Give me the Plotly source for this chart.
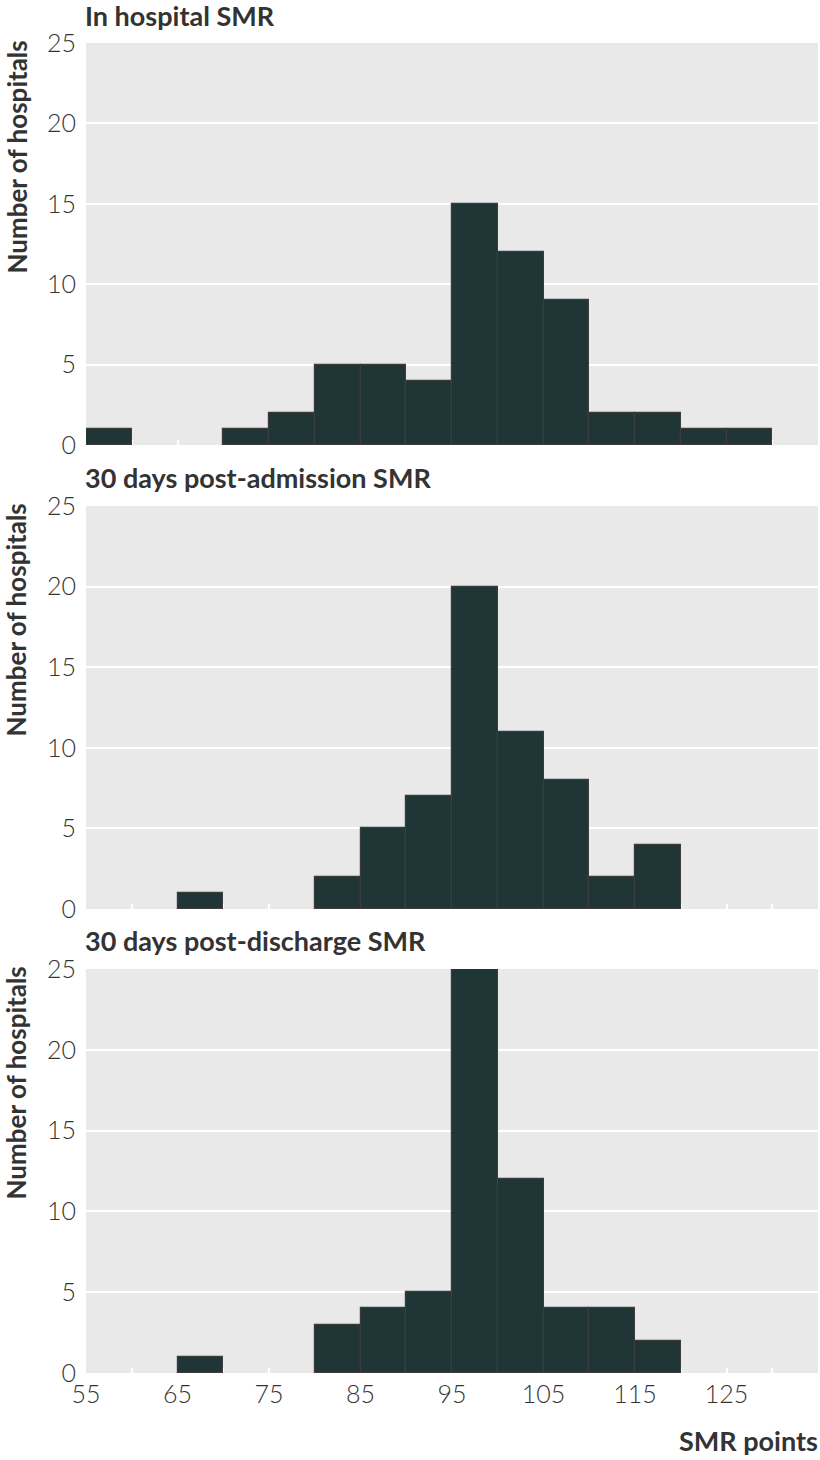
import plotly.graph_objects as go
from plotly.subplots import make_subplots

bin_starts = [55, 60, 65, 70, 75, 80, 85, 90, 95, 100, 105, 110, 115, 120, 125]
in_hospital = [1, 0, 0, 1, 2, 5, 5, 4, 15, 12, 9, 2, 2, 1, 1]
post_admission = [0, 0, 1, 0, 0, 2, 5, 7, 20, 11, 8, 2, 4, 0, 0]
post_discharge = [0, 0, 1, 0, 0, 3, 4, 5, 25, 12, 4, 4, 2, 0, 0]
panel_titles = ["In hospital SMR", "30 days post-admission SMR", "30 days post-discharge SMR"]
x_tick_vals = [55, 60, 65, 70, 75, 80, 85, 90, 95, 100, 105, 110, 115, 120, 125, 130]
x_tick_text = ["55", "", "65", "", "75", "", "85", "", "95", "", "105", "", "115", "", "125", ""]
y_tick_vals = [0, 5, 10, 15, 20, 25]
bin_width = 5

BAR = "#1f3536"
EDGE = "#3c3c3c"
BG = "#e9e9e9"
TXT = "#333333"
FONT = "Lato"

fig = make_subplots(rows=3, cols=1, shared_xaxes=False)
series = [in_hospital, post_admission, post_discharge]
domains = [[0.6977, 1.0], [0.3489, 0.6519], [0.0, 0.3038]]

for i, vals in enumerate(series):
    xs = [s + bin_width / 2 for s, v in zip(bin_starts, vals) if v > 0]
    ys = [v for v in vals if v > 0]
    fig.add_trace(
        go.Bar(
            x=xs, y=ys, width=bin_width,
            marker=dict(color=BAR, line=dict(color=EDGE, width=1.2)),
            showlegend=False, hoverinfo="x+y",
        ),
        row=i + 1, col=1,
    )
    xa = "xaxis" if i == 0 else f"xaxis{i+1}"
    ya = "yaxis" if i == 0 else f"yaxis{i+1}"
    fig.layout[xa].update(
        range=[55, 135], domain=[0, 1], showgrid=False, zeroline=False,
        ticks="inside", ticklen=5, tickwidth=2, tickcolor="white",
        tickvals=x_tick_vals, ticktext=x_tick_text if i == 2 else [""] * len(x_tick_vals),
        showticklabels=(i == 2), layer="below traces", automargin=False,
        ticklabelstandoff=4,
        tickfont=dict(family=FONT, size=25, color=TXT, weight=300),
        showline=False,
    )
    fig.layout[ya].update(
        range=[0, 25], domain=domains[i], tickvals=y_tick_vals,
        gridcolor="white", gridwidth=2, zeroline=False, showline=False,
        ticks="", ticklabelstandoff=9, automargin=False,
        tickfont=dict(family=FONT, size=25, color=TXT, weight=300),
    )
    # panel title
    fig.add_annotation(
        text=f"<b>{panel_titles[i]}</b>", xref="paper", yref="paper",
        x=0, xshift=-3, y=domains[i][1], yshift=28, xanchor="left", yanchor="middle",
        showarrow=False, font=dict(family=FONT, size=27, color=TXT),
    )
    # y-axis title
    fig.add_annotation(
        text="<b>Number of hospitals</b>", xref="paper", yref="paper",
        x=0, xshift=-70, y=domains[i][1], yshift=4, xanchor="center", yanchor="top",
        textangle=-90, showarrow=False, font=dict(family=FONT, size=26, color=TXT),
    )

fig.add_annotation(
    text="<b>SMR points</b>", xref="paper", yref="paper",
    x=1, xshift=2, y=0, yshift=-67, xanchor="right", yanchor="middle",
    showarrow=False, font=dict(family=FONT, size=27, color=TXT),
)

fig.update_layout(
    width=820, height=1460,
    margin=dict(l=86, r=2, t=43, b=87),
    plot_bgcolor=BG, paper_bgcolor="white",
    bargap=0,
)

fig.write_html("out.html", config={"displayModeBar": False},
               post_script="document.body.style.margin='0';")
